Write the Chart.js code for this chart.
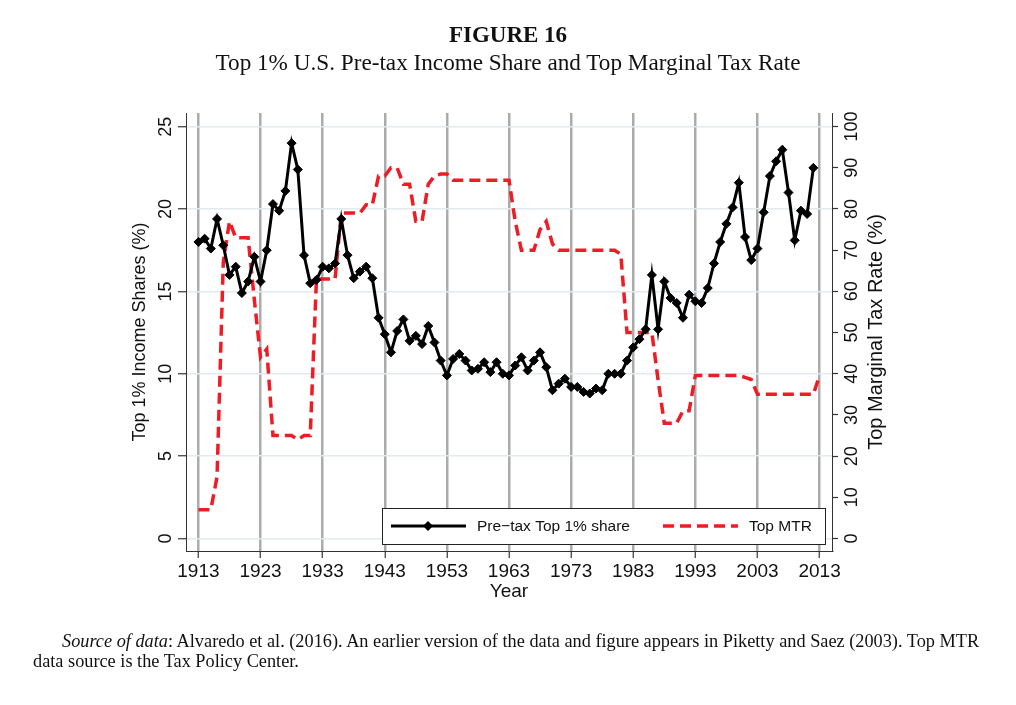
<!DOCTYPE html>
<html>
<head>
<meta charset="utf-8">
<script src="https://cdn.jsdelivr.net/npm/chart.js@4/dist/chart.umd.min.js"></script>
<style>
  body { margin: 0; background: #fff; }
  #wrap { position: relative; width: 1016px; height: 705px; overflow: hidden; }
  canvas { position: absolute; left: 0; top: 0; }
  .head { position: absolute; left: 0; width: 1016px; text-align: center; color: #111;
          font-family: "Liberation Serif", "Times New Roman", serif; font-size: 23px; line-height: 26px; }
  #fig { top: 22px; font-weight: bold; }
  #sub { top: 49px; font-size: 23.2px; }
  #src { position: absolute; left: 33px; top: 631px; color: #111; white-space: nowrap;
         font-family: "Liberation Serif", "Times New Roman", serif; font-size: 18.3px; line-height: 20px; }
  #src .l1 { padding-left: 29px; }
</style>
</head>
<body>
<div id="wrap">
  <canvas id="c" width="1016" height="705"></canvas>
  <div class="head" id="fig">FIGURE 16</div>
  <div class="head" id="sub">Top 1% U.S. Pre-tax Income Share and Top Marginal Tax Rate</div>
  <div id="src"><span class="l1"><i>Source of data</i>: Alvaredo et al. (2016). An earlier version of the data and figure appears in Piketty and Saez (2003). Top MTR</span><br>data source is the Tax Policy Center.</div>
</div>
<script>
// years 1913-2013 (share series stops at 2012)
const years = [1913, 1914, 1915, 1916, 1917, 1918, 1919, 1920, 1921, 1922,
  1923, 1924, 1925, 1926, 1927, 1928, 1929, 1930, 1931, 1932,
  1933, 1934, 1935, 1936, 1937, 1938, 1939, 1940, 1941, 1942,
  1943, 1944, 1945, 1946, 1947, 1948, 1949, 1950, 1951, 1952,
  1953, 1954, 1955, 1956, 1957, 1958, 1959, 1960, 1961, 1962,
  1963, 1964, 1965, 1966, 1967, 1968, 1969, 1970, 1971, 1972,
  1973, 1974, 1975, 1976, 1977, 1978, 1979, 1980, 1981, 1982,
  1983, 1984, 1985, 1986, 1987, 1988, 1989, 1990, 1991, 1992,
  1993, 1994, 1995, 1996, 1997, 1998, 1999, 2000, 2001, 2002,
  2003, 2004, 2005, 2006, 2007, 2008, 2009, 2010, 2011, 2012, 2013];

const topShare = [18.0, 18.2, 17.6, 19.4, 17.8, 16.0, 16.5, 14.9, 15.6, 17.1,
  15.6, 17.5, 20.3, 19.9, 21.1, 24.0, 22.4, 17.2, 15.5, 15.7,
  16.5, 16.4, 16.7, 19.4, 17.2, 15.8, 16.2, 16.5, 15.8, 13.4,
  12.4, 11.3, 12.6, 13.3, 12.0, 12.3, 11.8, 12.9, 11.9, 10.8,
  9.9, 10.9, 11.2, 10.8, 10.2, 10.3, 10.7, 10.1, 10.7, 10.0,
  9.9, 10.5, 11.0, 10.2, 10.8, 11.3, 10.4, 9.0, 9.4, 9.7,
  9.2, 9.2, 8.9, 8.8, 9.1, 9.0, 10.0, 10.0, 10.0, 10.8,
  11.6, 12.1, 12.7, 16.0, 12.7, 15.6, 14.6, 14.3, 13.4, 14.8,
  14.4, 14.3, 15.2, 16.7, 18.0, 19.1, 20.1, 21.6, 18.3, 16.9,
  17.6, 19.8, 22.0, 22.9, 23.6, 21.0, 18.1, 19.9, 19.7, 22.5];

const topMTR = [7, 7, 7, 15, 67, 77, 73, 73, 73, 58,
  44, 46, 25, 25, 25, 25, 24, 25, 25, 63,
  63, 63, 63, 79, 79, 79, 79, 81, 81, 88,
  88, 90, 90, 86, 86, 77, 77, 86, 88, 88.5,
  88.5, 87, 87, 87, 87, 87, 87, 87, 87, 87,
  87, 77, 70, 70, 70, 75, 77, 71.5, 70, 70,
  70, 70, 70, 70, 70, 70, 70, 70, 69, 50,
  50, 50, 50, 50, 38.5, 28, 28, 28, 31, 31,
  39.6, 39.6, 39.6, 39.6, 39.6, 39.6, 39.6, 39.6, 39.1, 38.6,
  35, 35, 35, 35, 35, 35, 35, 35, 35, 35, 39.6];

const yearTicks = [1913, 1923, 1933, 1943, 1953, 1963, 1973, 1983, 1993, 2003, 2013];
const shareTicks = [0, 5, 10, 15, 20, 25];
const mtrTicks = [0, 10, 20, 30, 40, 50, 60, 70, 80, 90, 100];
const seriesNames = ['Pre\u2212tax Top 1% share', 'Top MTR'];

const sans = '"Liberation Sans", Arial, sans-serif';
const ink = '#111';
const red = '#ee1c25';

function pts(vals) {
  return vals.map((v, i) => ({ x: years[i], y: v }));
}

// legend drawn as a framed box inside the plot, like the original
const legendBox = {
  id: 'legendBox',
  afterDatasetsDraw(chart) {
    const ctx = chart.ctx;
    const a = chart.chartArea;
    const x0 = a.left + 196, y0 = a.bottom - 43;
    const w = a.right - 7 - x0, h = 36, cy = y0 + h / 2;
    ctx.save();
    ctx.fillStyle = '#fff';
    ctx.fillRect(x0, y0, w, h);
    ctx.strokeStyle = '#222';
    ctx.lineWidth = 1;
    ctx.strokeRect(x0 + 0.5, y0 + 0.5, w, h);
    const starts = [x0 + 9, x0 + 281];
    chart.data.datasets.forEach((ds, i) => {
      const sx = starts[i];
      ctx.strokeStyle = ds.borderColor;
      ctx.lineWidth = ds.borderWidth;
      ctx.setLineDash(ds.borderDash || []);
      ctx.beginPath();
      ctx.moveTo(sx, cy);
      ctx.lineTo(sx + 75, cy);
      ctx.stroke();
      ctx.setLineDash([]);
      if (ds.pointRadius > 0) {
        const r = ds.pointRadius + 0.5, mx = sx + 37;
        ctx.fillStyle = ds.pointBackgroundColor;
        ctx.beginPath();
        ctx.moveTo(mx, cy - r);
        ctx.lineTo(mx + r, cy);
        ctx.lineTo(mx, cy + r);
        ctx.lineTo(mx - r, cy);
        ctx.closePath();
        ctx.fill();
      }
      ctx.fillStyle = ink;
      ctx.font = '15.5px ' + sans;
      ctx.textBaseline = 'middle';
      ctx.textAlign = 'left';
      ctx.fillText(ds.label, sx + 86, cy + 1);
    });
    ctx.restore();
  }
};

// right axis title reads bottom to top in the original
const rightTitle = {
  id: 'rightTitle',
  afterDraw(chart) {
    const s = chart.scales.y2;
    const ctx = chart.ctx;
    ctx.save();
    ctx.translate(s.right - 16, (s.top + s.bottom) / 2);
    ctx.rotate(-Math.PI / 2);
    ctx.font = '20px ' + sans;
    ctx.fillStyle = ink;
    ctx.textAlign = 'center';
    ctx.textBaseline = 'middle';
    ctx.fillText('Top Marginal Tax Rate (%)', 0, 0);
    ctx.restore();
  }
};

new Chart(document.getElementById('c'), {
  type: 'line',
  data: {
    datasets: [
      {
        label: seriesNames[0],
        data: pts(topShare),
        yAxisID: 'y',
        borderColor: '#000',
        backgroundColor: '#000',
        borderWidth: 3,
        pointStyle: 'rectRot',
        pointRadius: 4.5,
        pointBorderWidth: 1,
        pointBackgroundColor: '#000',
        pointBorderColor: '#000',
        tension: 0
      },
      {
        label: seriesNames[1],
        data: pts(topMTR),
        yAxisID: 'y2',
        borderColor: red,
        backgroundColor: red,
        borderWidth: 3.5,
        borderDash: [11, 6],
        pointRadius: 0,
        fill: false,
        tension: 0
      }
    ]
  },
  options: {
    responsive: false,
    animation: false,
    layout: { padding: { left: 110, right: 124, top: 113, bottom: 99 } },
    plugins: {
      legend: { display: false },
      tooltip: { enabled: false }
    },
    scales: {
      x: {
        type: 'linear',
        min: 1911,
        max: 2015,
        afterBuildTicks: s => { s.ticks = yearTicks.map(v => ({ value: v })); },
        afterFit: s => { s.height = 55; },
        border: { color: '#333', width: 1 },
        grid: { color: '#ababab', lineWidth: 2.5, tickColor: '#333', tickWidth: 1.2, tickLength: 7 },
        ticks: {
          autoSkip: false, maxRotation: 0, padding: 2, color: ink,
          font: { family: sans, size: 19 },
          callback: v => String(v)
        },
        title: {
          display: true, text: 'Year', color: ink,
          font: { family: sans, size: 19 },
          padding: { top: 0, bottom: 3 }
        }
      },
      y: {
        position: 'left',
        min: -0.76,
        max: 25.83,
        afterBuildTicks: s => { s.ticks = shareTicks.map(v => ({ value: v })); },
        afterFit: s => { s.width = 76; },
        border: { color: '#333', width: 1 },
        grid: { color: '#e2eaee', lineWidth: 1.5, tickColor: '#333', tickWidth: 1.2, tickLength: 8 },
        ticks: {
          minRotation: 90, maxRotation: 90, crossAlign: 'center', padding: 1.5,
          color: ink, font: { family: sans, size: 18 }
        },
        title: {
          display: true, text: 'Top 1% Income Shares (%)', color: ink,
          font: { family: sans, size: 18 },
          padding: { top: 19, bottom: 0 }
        }
      },
      y2: {
        position: 'right',
        min: -3.03,
        max: 103.3,
        afterBuildTicks: s => { s.ticks = mtrTicks.map(v => ({ value: v })); },
        afterFit: s => { s.width = 60; },
        border: { color: '#333', width: 1 },
        grid: { drawOnChartArea: false, color: '#333', tickColor: '#333', tickWidth: 1.2, tickLength: 6 },
        ticks: {
          minRotation: 90, maxRotation: 90, crossAlign: 'center', padding: -1,
          color: ink, font: { family: sans, size: 18 }
        }
      }
    }
  },
  plugins: [legendBox, rightTitle]
});
</script>
</body>
</html>
